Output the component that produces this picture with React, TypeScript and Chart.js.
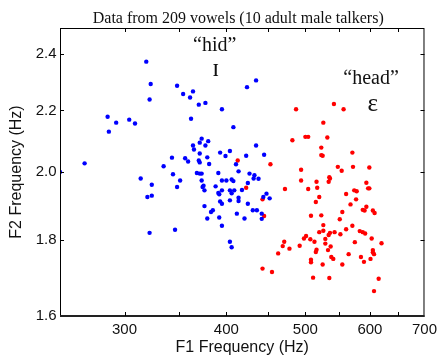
import React, { useEffect, useRef } from 'react';
import { Chart, registerables } from 'chart.js';

Chart.register(...registerables);

const TITLE = 'Data from 209 vowels (10 adult male talkers)';
const X_TITLE = 'F1 Frequency (Hz)';
const Y_TITLE = 'F2 Frequency (Hz)';

const X_TICKS = [300, 350, 400, 450, 500, 550, 600, 650, 700];
const X_LABELED = [300, 400, 500, 600, 700];
const Y_TICKS = [1.6, 1.8, 2.0, 2.2, 2.4];

// "hid" vowel (blue)
const hidF1 = [250, 268, 286, 287, 293, 304, 309, 319, 323, 322,
  314, 324, 320, 324, 322, 343, 335, 344, 348, 346,
  348, 354, 364, 361, 370, 377, 395, 362, 424, 435,
  408, 373, 371, 380, 377, 364, 365, 435, 393, 404,
  399, 371, 379, 423, 445, 411, 356, 359, 370, 371,
  381, 414, 427, 433, 432, 438, 368, 371, 373, 391,
  351, 373, 375, 374, 376, 395, 400, 406, 408, 425,
  388, 391, 392, 395, 404, 409, 418, 414, 414, 404,
  393, 395, 448, 452, 444, 425, 376, 385, 383, 412,
  431, 436, 442, 379, 392, 421, 442, 406, 395, 404, 406];
const hidF2 = [2.000, 2.027, 2.179, 2.129, 2.159, 2.169, 2.156, 2.373, 2.292, 2.238,
  1.980, 1.961, 1.924, 1.928, 1.820, 2.045, 2.018, 1.993, 1.954, 1.829,
  2.286, 2.257, 2.266, 2.245, 2.220, 2.226, 2.204, 2.172, 2.281, 2.305,
  2.144, 2.106, 2.093, 2.098, 2.084, 2.084, 2.071, 2.084, 2.061, 2.066,
  2.050, 2.058, 2.046, 2.051, 2.054, 2.024, 2.043, 2.033, 2.036, 2.030,
  2.025, 2.002, 1.995, 1.990, 1.980, 1.979, 1.997, 1.995, 1.995, 1.997,
  1.974, 1.974, 1.958, 1.954, 1.944, 1.974, 1.974, 1.977, 1.972, 1.966,
  1.956, 1.936, 1.932, 1.944, 1.944, 1.944, 1.945, 1.922, 1.912, 1.914,
  1.911, 1.904, 1.934, 1.920, 1.924, 1.904, 1.897, 1.885, 1.880, 1.875,
  1.885, 1.885, 1.875, 1.861, 1.864, 1.861, 1.860, 1.935, 1.840, 1.795, 1.780];

// "head" vowel (red)
const headF1 = [487, 542, 557, 526, 482, 500, 504, 532, 523, 523,
  525, 571, 494, 548, 554, 572, 599, 494, 516, 535,
  536, 534, 594, 472, 504, 517, 597, 599, 574, 578,
  520, 561, 577, 413, 453, 423, 443, 445, 471, 469,
  478, 463, 443, 455, 515, 568, 594, 588, 591, 605,
  608, 555, 508, 523, 551, 526, 571, 561, 520, 526,
  536, 534, 543, 552, 583, 588, 592, 501, 498, 507,
  513, 529, 529, 537, 533, 575, 603, 620, 492, 516,
  515, 538, 541, 565, 605, 605, 607, 585, 601, 590,
  508, 508, 525, 555, 511, 535, 615, 607];
const headF2 = [2.204, 2.222, 2.204, 2.159, 2.101, 2.112, 2.112, 2.110, 2.077, 2.053,
  2.051, 2.061, 2.007, 2.016, 2.004, 2.016, 2.014, 1.974, 1.970, 1.984,
  1.980, 1.970, 1.967, 1.948, 1.948, 1.952, 1.950, 1.950, 1.944, 1.941,
  1.924, 1.933, 1.917, 2.036, 2.024, 1.952, 1.917, 1.868, 1.795, 1.783,
  1.776, 1.763, 1.722, 1.713, 1.909, 1.902, 1.895, 1.886, 1.884, 1.884,
  1.877, 1.880, 1.869, 1.870, 1.859, 1.842, 1.840, 1.830, 1.822, 1.826,
  1.820, 1.814, 1.822, 1.816, 1.825, 1.822, 1.818, 1.811, 1.804, 1.802,
  1.795, 1.803, 1.790, 1.782, 1.772, 1.794, 1.804, 1.791, 1.784, 1.773,
  1.767, 1.753, 1.748, 1.761, 1.772, 1.766, 1.761, 1.753, 1.748, 1.740,
  1.746, 1.739, 1.733, 1.733, 1.698, 1.697, 1.695, 1.663];

// Annotation labels placed in data coordinates
const NOTE_TEXT = ['\u201Chid\u201D', '\u026A', '\u201Chead\u201D', '\u025B'];
const NOTE_SIZE = [20, 25, 20, 25];
const NOTE_F1 = [387, 388, 602, 605];
const NOTE_F2 = [2.432, 2.345, 2.311, 2.222];

const SANS = "'Liberation Sans', Arial, sans-serif";
const SERIF = "'Liberation Serif', 'Times New Roman', serif";

const framePlugin = {
  id: 'frame',
  afterDatasetsDraw(chart: any) {
    const { ctx, chartArea: a, scales } = chart;
    const x = scales.x;
    const y = scales.y;
    ctx.save();
    ctx.strokeStyle = '#000';
    ctx.lineWidth = 1;
    ctx.strokeRect(a.left + 0.5, a.top + 0.5, a.right - a.left - 1, a.bottom - a.top);
    ctx.fillStyle = '#222';
    ctx.fillRect(a.left, a.bottom - 1, a.right - a.left, 2);
    const tl = 4;
    ctx.beginPath();
    X_TICKS.forEach((v) => {
      const px = Math.round(x.getPixelForValue(v)) + 0.5;
      if (px <= a.left + 1 || px >= a.right - 1) return;
      ctx.moveTo(px, a.bottom);
      ctx.lineTo(px, a.bottom - tl);
      ctx.moveTo(px, a.top);
      ctx.lineTo(px, a.top + tl);
    });
    Y_TICKS.forEach((v) => {
      const py = Math.round(y.getPixelForValue(v)) + 0.5;
      if (py >= a.bottom - 1 || py <= a.top + 1) return;
      ctx.moveTo(a.left, py);
      ctx.lineTo(a.left + tl, py);
      ctx.moveTo(a.right, py);
      ctx.lineTo(a.right - tl, py);
    });
    ctx.stroke();

    // title
    ctx.fillStyle = '#111';
    ctx.textAlign = 'center';
    ctx.textBaseline = 'middle';
    ctx.font = `16px ${SERIF}`;
    ctx.fillText(TITLE, (a.left + a.right) / 2 - 4, 18.5);

    // annotations
    NOTE_TEXT.forEach((t, i) => {
      ctx.font = `${NOTE_SIZE[i]}px ${SERIF}`;
      ctx.fillText(t, x.getPixelForValue(NOTE_F1[i]), y.getPixelForValue(NOTE_F2[i]));
    });
    ctx.restore();
  },
};

export default function App() {
  const ref = useRef<HTMLCanvasElement | null>(null);
  useEffect(() => {
    if (!ref.current) return;
    const hid = hidF1.map((v, i) => ({ x: v, y: hidF2[i] }));
    const head = headF1.map((v, i) => ({ x: v, y: headF2[i] }));
    const chart = new Chart(ref.current, {
      type: 'scatter',
      data: {
        datasets: [
          { label: 'hid', data: hid, backgroundColor: '#0000ff', borderWidth: 0, pointRadius: 2.2, pointHoverRadius: 2.2 },
          { label: 'head', data: head, backgroundColor: '#ff0000', borderWidth: 0, pointRadius: 2.2, pointHoverRadius: 2.2 },
        ],
      },
      options: {
        animation: false,
        responsive: false,
        devicePixelRatio: 1,
        events: [],
        layout: { padding: { top: 28, right: 15, left: 0, bottom: 0 } },
        plugins: { legend: { display: false }, tooltip: { enabled: false }, title: { display: false } },
        scales: {
          x: {
            type: 'logarithmic',
            position: 'bottom',
            min: 250,
            max: 700,
            grid: { display: false, drawTicks: false },
            border: { display: false },
            afterBuildTicks: (s: any) => { s.ticks = X_TICKS.map((v) => ({ value: v })); },
            afterFit: (s: any) => { s.height = 44; },
            ticks: {
              autoSkip: false,
              maxRotation: 0,
              padding: 5,
              color: '#111',
              font: { family: SANS, size: 15 },
              callback: (v: any) => (X_LABELED.includes(Number(v)) ? String(v) : ''),
            },
            title: {
              display: true,
              text: X_TITLE,
              color: '#111',
              font: { family: SANS, size: 16 },
              padding: { top: 0, bottom: 2.5 },
            },
          },
          y: {
            type: 'logarithmic',
            position: 'left',
            min: 1.6,
            max: 2.5,
            grid: { display: false, drawTicks: false },
            border: { display: false },
            afterBuildTicks: (s: any) => { s.ticks = Y_TICKS.map((v) => ({ value: v })); },
            afterFit: (s: any) => { s.width = 60; },
            ticks: {
              autoSkip: false,
              padding: 3.5,
              color: '#111',
              font: { family: SANS, size: 15 },
              callback: (v: any) => Number(v).toFixed(1),
            },
            title: {
              display: true,
              text: Y_TITLE,
              color: '#111',
              font: { family: SANS, size: 16 },
              padding: { top: 7, bottom: 0 },
            },
          },
        },
      },
      plugins: [framePlugin],
    } as any);
    return () => chart.destroy();
  }, []);
  return (
    <div style={{ position: 'fixed', left: 0, top: 0, width: 442, height: 360, background: '#fff' }}>
      <canvas ref={ref} width={442} height={360} style={{ display: 'block' }} />
    </div>
  );
}
